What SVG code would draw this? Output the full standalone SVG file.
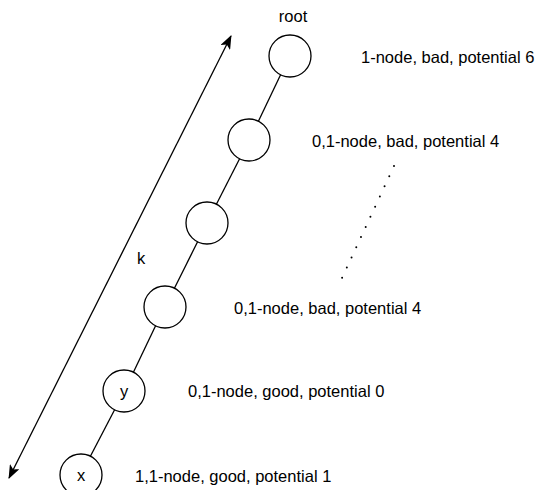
<svg xmlns="http://www.w3.org/2000/svg" width="537" height="490" viewBox="0 0 537 490">
<style>
.n{fill:#fff;stroke:#000;stroke-width:1.3}
.e{stroke:#000;stroke-width:1.3;fill:none}
text{font-family:"Liberation Sans",Arial,sans-serif;font-size:16.5px;fill:#000}
.c{text-anchor:middle}
</style>
<defs>
<marker id="ah" viewBox="0 0 14 11" refX="13" refY="5.5" markerWidth="14" markerHeight="11" markerUnits="userSpaceOnUse" orient="auto-start-reverse">
<path d="M0,0 L14,5.5 L0,11 L3.5,5.5 Z" fill="#000"/>
</marker>
</defs>
<g id="connectors">
<line class="e" x1="280.6" y1="74.8" x2="258.4" y2="121.2"/>
<line class="e" x1="239.6" y1="158.8" x2="216.4" y2="204.2"/>
<line class="e" x1="197.6" y1="241.8" x2="174.4" y2="288.2"/>
<line class="e" x1="155.6" y1="325.8" x2="133.4" y2="372.2"/>
<line class="e" x1="114.6" y1="409.8" x2="90.4" y2="456.2"/>
<line class="e" x1="9" y1="478" x2="231" y2="36" marker-start="url(#ah)" marker-end="url(#ah)"/>
<line x1="394" y1="166" x2="342" y2="278" stroke="#000" stroke-width="2" stroke-linecap="round" stroke-dasharray="0 11.2"/>
</g>
<g id="root"><circle class="n" cx="290" cy="56" r="21"/></g>
<g id="n2"><circle class="n" cx="249" cy="140" r="21"/></g>
<g id="n3"><circle class="n" cx="207" cy="223" r="21"/></g>
<g id="n4"><circle class="n" cx="165" cy="307" r="21"/></g>
<g id="y"><circle class="n" cx="124" cy="391" r="21"/><text class="c" x="124" y="397">y</text></g>
<g id="x"><circle class="n" cx="81" cy="475" r="21"/><text class="c" x="81" y="481">x</text></g>
<g id="labels">
<text class="c" x="293" y="22">root</text>
<text x="361" y="63">1-node, bad, potential 6</text>
<text x="312" y="147">0,1-node, bad, potential 4</text>
<text x="234" y="314">0,1-node, bad, potential 4</text>
<text x="188" y="397">0,1-node, good, potential 0</text>
<text x="135" y="482">1,1-node, good, potential 1</text>
<text x="137" y="264">k</text>
</g>
</svg>
